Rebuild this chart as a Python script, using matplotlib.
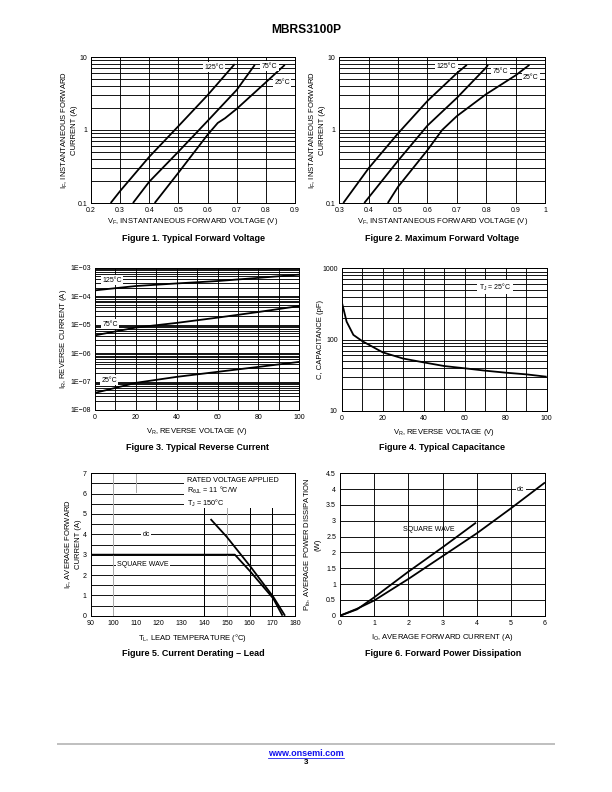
import numpy as np
import matplotlib.pyplot as plt
from matplotlib.patches import Rectangle
from matplotlib.ticker import LogLocator, NullFormatter, MultipleLocator

plt.rcParams['font.family'] = ['Liberation Sans', 'DejaVu Sans']
plt.rcParams['mathtext.default'] = 'regular'
plt.rcParams['font.size'] = 7

# Figure 1 - typical forward voltage (V, A)
vf1_125 = [0.2675, 0.30, 0.40, 0.50, 0.60, 0.693]
if1_125 = [0.1, 0.146, 0.43, 1.13, 3.0, 8.0]
vf1_75 = [0.344, 0.40, 0.50, 0.60, 0.70, 0.762]
if1_75 = [0.1, 0.196, 0.505, 1.33, 3.54, 7.8]
vf1_25 = [0.4185, 0.50, 0.60, 0.635, 0.66, 0.70, 0.80, 0.865]
if1_25 = [0.1, 0.26, 0.86, 1.25, 1.45, 1.95, 4.5, 7.8]

# Figure 2 - maximum forward voltage
vf2_125 = [0.3136, 0.40, 0.50, 0.60, 0.70, 0.734]
if2_125 = [0.1, 0.30, 0.90, 2.5, 6.0, 7.8]
vf2_75 = [0.385, 0.50, 0.60, 0.70, 0.80, 0.806]
if2_75 = [0.1, 0.38, 1.15, 2.75, 7.2, 7.8]
vf2_25 = [0.465, 0.50, 0.60, 0.65, 0.70, 0.80, 0.90, 0.947]
if2_25 = [0.1, 0.167, 0.53, 1.0, 1.55, 3.1, 5.6, 7.8]

# Figure 3 - typical reverse current (V, A)
vr3 = [0, 20, 40, 60, 80, 100]
ir3_125 = [1.6e-4, 2.27e-4, 2.8e-4, 3.4e-4, 4.4e-4, 5.7e-4]
ir3_75 = [4.2e-6, 7.9e-6, 1.15e-5, 1.76e-5, 2.78e-5, 4.5e-5]
ir3_25 = [4.0e-8, 9.0e-8, 1.46e-7, 2.19e-7, 3.27e-7, 4.9e-7]

# Figure 4 - typical capacitance (V, pF)
vr4 = [0, 2.4, 5.7, 10, 20, 30, 40, 50, 60, 70, 80, 90, 100]
cap4 = [340, 178, 116, 95, 66, 54, 47.7, 42.4, 39.4, 36.5, 34.2, 32.4, 30]

# Figure 5 - current derating (degC, A)
tl_dc = [142.8, 149.9, 160.4, 170.4, 175.6]
io_dc = [4.75, 3.88, 2.41, 0.93, 0.0]
tl_sq = [90, 153.5, 160.4, 170.4, 174.5]
io_sq = [3.0, 3.0, 2.16, 0.85, 0.0]

# Figure 6 - forward power dissipation (A, W)
io6_dc = [0, 0.5, 1, 2, 3, 4, 5, 6]
pf6_dc = [0, 0.22, 0.48, 1.16, 1.88, 2.6, 3.39, 4.21]
io6_sq = [0, 0.5, 1, 2, 3, 3.98]
pf6_sq = [0, 0.2, 0.58, 1.39, 2.16, 2.94]

W, H = 612, 792
fig = plt.figure(figsize=(8.5, 11), dpi=72)

TK = 7      # tick labels
AL = 7.6    # axis labels


def box(l, t, r, b):
    return [l / W, 1 - b / H, (r - l) / W, (b - t) / H]


def style(ax):
    ax.tick_params(which='both', length=0, labelsize=TK, pad=4)
    ax.set_axisbelow(True)
    for s in ax.spines.values():
        s.set_linewidth(1.0)


def logy(ax):
    ax.set_yscale('log')
    ax.yaxis.set_minor_locator(LogLocator(base=10, subs=np.arange(2, 10)))
    ax.yaxis.set_minor_formatter(NullFormatter())
    ax.grid(which='both', axis='y', color='k', lw=0.9)
    ax.grid(which='major', axis='x', color='k', lw=0.9)


lab = dict(fontsize=7, ha='center', va='center',
           bbox=dict(facecolor='white', edgecolor='none', pad=1.5))
cw = dict(color='k', lw=1.8, solid_capstyle='butt')

# ---- Figure 1
ax1 = fig.add_axes(box(91, 57, 295, 203))
style(ax1)
logy(ax1)
ax1.plot(vf1_125, if1_125, **cw)
ax1.plot(vf1_75, if1_75, **cw)
ax1.plot(vf1_25, if1_25, **cw)
ax1.set_xlim(0.2, 0.9)
ax1.set_ylim(0.1, 10)
ax1.set_xticks([0.2, 0.3, 0.4, 0.5, 0.6, 0.7, 0.8, 0.9])
ax1.set_xticklabels(['0.2', '0.3', '0.4', '0.5', '0.6', '0.7', '0.8', '0.9'])
ax1.set_yticks([0.1, 1, 10])
ax1.set_yticklabels(['0.1', '1', '10'])
ax1.text(0.622, 7.2, '125°C', **lab)
ax1.text(0.812, 7.5, '75°C', **lab)
ax1.text(0.856, 4.47, '25°C', **lab)
ax1.set_xlabel('V$_F$, INSTANTANEOUS FORWARD VOLTAGE (V)', fontsize=AL, labelpad=2)
ax1.set_ylabel('I$_F$, INSTANTANEOUS FORWARD\nCURRENT (A)', fontsize=AL)
ax1.yaxis.set_label_coords(-0.065, 0.5)

# ---- Figure 2
ax2 = fig.add_axes(box(339.3, 57, 545, 203))
style(ax2)
logy(ax2)
ax2.plot(vf2_125, if2_125, **cw)
ax2.plot(vf2_75, if2_75, **cw)
ax2.plot(vf2_25, if2_25, **cw)
ax2.set_xlim(0.3, 1.0)
ax2.set_ylim(0.1, 10)
ax2.set_xticks([0.3, 0.4, 0.5, 0.6, 0.7, 0.8, 0.9, 1.0])
ax2.set_xticklabels(['0.3', '0.4', '0.5', '0.6', '0.7', '0.8', '0.9', '1'])
ax2.set_yticks([0.1, 1, 10])
ax2.set_yticklabels(['0.1', '1', '10'])
ax2.text(0.665, 7.5, '125°C', **lab)
ax2.text(0.849, 6.3, '75°C', **lab)
ax2.text(0.952, 5.3, '25°C', **lab)
ax2.set_xlabel('V$_F$, INSTANTANEOUS FORWARD VOLTAGE (V)', fontsize=AL, labelpad=2)
ax2.set_ylabel('I$_F$, INSTANTANEOUS FORWARD\nCURRENT (A)', fontsize=AL)
ax2.yaxis.set_label_coords(-0.065, 0.5)

# ---- Figure 3
ax3 = fig.add_axes(box(95, 267.7, 299.3, 410))
style(ax3)
logy(ax3)
ax3.plot(vr3, ir3_125, **cw)
ax3.plot(vr3, ir3_75, **cw)
ax3.plot(vr3, ir3_25, **cw)
ax3.set_xlim(0, 100)
ax3.set_ylim(1e-8, 1e-3)
ax3.set_xticks([0, 10, 20, 30, 40, 50, 60, 70, 80, 90, 100])
ax3.set_xticklabels(['0', '', '20', '', '40', '', '60', '', '80', '', '100'])
ax3.set_yticks([1e-8, 1e-7, 1e-6, 1e-5, 1e-4, 1e-3])
ax3.set_yticklabels(['1E\u221208', '1E\u221207', '1E\u221206', '1E\u221205', '1E\u221204', '1E\u221203'])
ax3.text(8.2, 3.6e-4, '125°C', **lab)
ax3.text(7.4, 1.02e-5, '75°C', **lab)
ax3.text(6.9, 1.1e-7, '25°C', **lab)
ax3.set_xlabel('V$_R$, REVERSE VOLTAGE (V)', fontsize=AL, labelpad=5)
ax3.set_ylabel('I$_R$, REVERSE CURRENT (A)', fontsize=AL)
ax3.yaxis.set_label_coords(-0.127, 0.5)

# ---- Figure 4
ax4 = fig.add_axes(box(341.7, 268.3, 546.7, 410.7))
style(ax4)
logy(ax4)
ax4.plot(vr4, cap4, **cw)
ax4.set_xlim(0, 100)
ax4.set_ylim(10, 1000)
ax4.set_xticks([0, 10, 20, 30, 40, 50, 60, 70, 80, 90, 100])
ax4.set_xticklabels(['0', '', '20', '', '40', '', '60', '', '80', '', '100'])
ax4.set_yticks([10, 100, 1000])
ax4.set_yticklabels(['10', '100', '1000'])
ax4.text(74.8, 541, 'T$_J$ = 25°C', **lab)
ax4.set_xlabel('V$_R$, REVERSE VOLTAGE (V)', fontsize=AL, labelpad=5)
ax4.set_ylabel('C, CAPACITANCE (pF)', fontsize=AL)
ax4.yaxis.set_label_coords(-0.085, 0.5)

# ---- Figure 5
ax5 = fig.add_axes(box(90.7, 473.3, 295, 615.7))
style(ax5)
ax5.set_xlim(90, 180)
ax5.set_ylim(0, 7)
ax5.set_xticks(np.arange(90, 181, 10))
ax5.set_yticks(np.arange(0, 8, 1))
ax5.yaxis.set_minor_locator(MultipleLocator(0.5))
ax5.grid(which='both', axis='y', color='k', lw=0.9)
for t, c in [(100, '#aaaaaa'), (140, 'k'), (150, '#aaaaaa'), (160, 'k'), (170, 'k')]:
    ax5.axvline(t, color=c, lw=1.0, zorder=0.6)
ax5.axvline(110, ymin=6.1 / 7, ymax=1, color='#aaaaaa', lw=1.0, zorder=0.6)
# white panel behind the conditions note
ax5.add_patch(Rectangle((0.455, 0.757), 0.545, 0.243, transform=ax5.transAxes,
                        facecolor='white', edgecolor='none', zorder=2))
ax5.text(132.6, 6.05, 'RATED VOLTAGE APPLIED\nR$_{\\theta JL}$ = 11 °C/W\nT$_J$ = 150°C',
         fontsize=7.3, ha='left', va='center', linespacing=1.15, zorder=3)
ax5.plot(tl_dc, io_dc, zorder=4, **cw)
ax5.plot(tl_sq, io_sq, zorder=4, **cw)
ax5.text(114.5, 4.0, 'dc', **lab)
ax5.text(113, 2.5, 'SQUARE WAVE', **lab)
ax5.set_xlabel('T$_L$, LEAD TEMPERATURE (°C)', fontsize=AL, labelpad=5)
ax5.set_ylabel('I$_F$, AVERAGE FORWARD\nCURRENT (A)', fontsize=AL)
ax5.yaxis.set_label_coords(-0.042, 0.5)

# ---- Figure 6
ax6 = fig.add_axes(box(340, 473.3, 545, 615.7))
style(ax6)
ax6.set_xlim(0, 6)
ax6.set_ylim(0, 4.5)
ax6.set_xticks(np.arange(0, 7, 1))
ax6.set_yticks(np.arange(0, 4.51, 0.5))
ax6.set_yticklabels(['0', '0.5', '1', '1.5', '2', '2.5', '3', '3.5', '4', '4.5'])
ax6.grid(which='major', color='k', lw=0.9)
ax6.plot(io6_dc, pf6_dc, **cw)
ax6.plot(io6_sq, pf6_sq, **cw)
ax6.text(2.61, 2.73, 'SQUARE WAVE', fontsize=7, ha='center', va='center')
ax6.text(5.29, 4.0, 'dc', **lab)
ax6.set_xlabel('I$_O$, AVERAGE FORWARD CURRENT (A)', fontsize=AL, labelpad=5)
ax6.set_ylabel('P$_{fo}$, AVERAGE POWER DISSIPATION\n(W)', fontsize=AL)
ax6.yaxis.set_label_coords(-0.092, 0.5)

# ---- captions, header, footer
fig.text(0.5, 1 - 30 / H, 'MBRS3100P', fontsize=12, fontweight='bold', ha='center', va='center')
caps = [(193, 239, 'Figure 1. Typical Forward Voltage'),
        (442, 239, 'Figure 2. Maximum Forward Voltage'),
        (197, 447, 'Figure 3. Typical Reverse Current'),
        (442, 447, 'Figure 4. Typical Capacitance'),
        (193, 654, 'Figure 5. Current Derating \u2013 Lead'),
        (443, 654, 'Figure 6. Forward Power Dissipation')]
for x, y, s in caps:
    fig.text(x / W, 1 - y / H, s, fontsize=9, fontweight='bold', ha='center', va='center')

fig.add_artist(plt.Line2D([58 / W, 554 / W], [1 - 744 / H] * 2, color='#c0c0c0', lw=2))
fig.text(0.5, 1 - 753 / H, 'www.onsemi.com', color='#1010ee', fontsize=9,
         fontweight='bold', ha='center', va='center')
fig.add_artist(plt.Line2D([268 / W, 344 / W], [1 - 758 / H] * 2, color='#1010ee', lw=0.8))
fig.text(0.5, 1 - 763 / H, '3', fontsize=8, fontweight='bold', ha='center', va='center')

fig.savefig('out.png', dpi=72)
